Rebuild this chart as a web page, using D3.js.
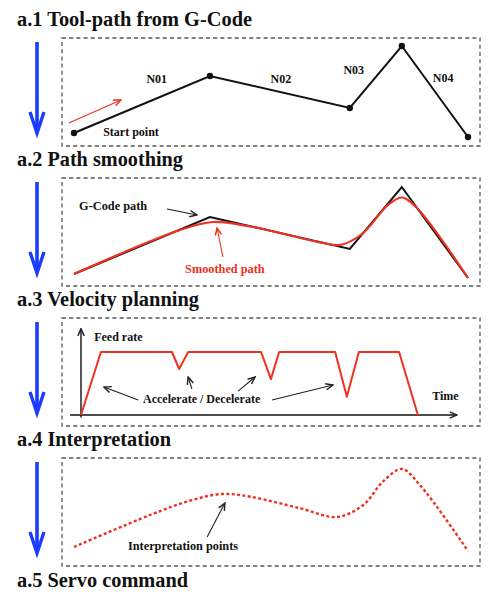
<!DOCTYPE html>
<html>
<head>
<meta charset="utf-8">
<script src="https://cdn.jsdelivr.net/npm/d3@7"></script>
<style>
  body{margin:0;background:#fff;}
  text{font-family:"Liberation Serif","Times New Roman",serif;font-weight:bold;}
</style>
</head>
<body>
<div id="vizContainer"></div>
<script>
let w = 495;
let h = 603;

// G-code tool path: position along the path (0-100) and height (0-100)
let gcodeX = [0, 34.5, 70, 83.2, 100];
let gcodeH = [7, 64, 32, 94, 3];
let blockNames = ["N01", "N02", "N03", "N04"];
let blockLabelX = [21, 52.5, 71, 93.7];
let blockLabelH = [57, 57, 66, 58];

// smoothed path (a.2)
let smoothX = [0, 26.9, 35.3, 44.7, 62.4, 67.5, 73.1, 79.7, 83.2, 86.8, 100];
let smoothH = [7, 51, 59, 54.5, 38.7, 36, 47, 76, 83.5, 74, 3];

// interpolated points path (a.4)
let interpX = [0, 19.3, 29.4, 37.6, 44.7, 57.4, 66.8, 73.4, 78.4, 83.2, 87.8, 100];
let interpH = [7, 39, 53.3, 60, 57.3, 45.7, 37, 49, 72.3, 85, 69, 3];

// velocity profile (a.3): time vs feed rate
let timeKnots = [0, 5.3, 24.2, 26.1, 28.5, 47.9, 50.5, 52.7, 67.6, 70.7, 73.9, 84.6, 89.6];
let feedKnots = [0, 100, 100, 73, 100, 100, 57, 100, 100, 29, 100, 100, 0];

let titles = ["a.1 Tool-path from G-Code", "a.2 Path smoothing", "a.3 Velocity planning", "a.4 Interpretation", "a.5 Servo command"];
let titleWidths = [235, 166, 182, 154, 171];

let step = 140;
let boxTop = 38, boxH = 108, boxLeft = 62, boxRight = 480;

let viz = d3.select("#vizContainer").append("svg")
    .attr("width", w)
    .attr("height", h)
    .style("background-color", "white")
;

// arrow heads
let defs = viz.append("defs");
function addMarker(id, color){
  defs.append("marker")
      .attr("id", id)
      .attr("viewBox", "0 0 10 10")
      .attr("refX", 9)
      .attr("refY", 5)
      .attr("markerWidth", 9)
      .attr("markerHeight", 9)
      .attr("markerUnits", "userSpaceOnUse")
      .attr("orient", "auto")
    .append("path")
      .attr("d", "M1,1.5 L9,5 L1,8.5")
      .attr("fill", "none")
      .attr("stroke", color)
      .attr("stroke-width", 1.6)
  ;
}
addMarker("headBlack", "#222");
addMarker("headRed", "#f03020");

// titles
viz.selectAll(".title").data(titles).enter()
  .append("text")
    .attr("class", "title")
    .attr("x", 17)
    .attr("y", (d, i) => 26 + i*step + (i == 4 ? 1 : 0))
    .attr("font-size", 20.5)
    .attr("fill", "#111")
    .attr("textLength", (d, i) => titleWidths[i])
    .attr("lengthAdjust", "spacingAndGlyphs")
    .text(d => d)
;

// dashed frames and blue arrows
for(let i = 0; i < 4; i++){
  let top = boxTop + i*step;
  viz.append("rect")
      .attr("x", boxLeft)
      .attr("y", top)
      .attr("width", boxRight - boxLeft)
      .attr("height", boxH)
      .attr("fill", "none")
      .attr("stroke", "#555")
      .attr("stroke-width", 1.3)
      .attr("stroke-dasharray", "4,3.2")
  ;
  let ax = 37;
  let y0 = top + 4, y1 = top + 95;
  viz.append("line")
      .attr("x1", ax).attr("y1", y0)
      .attr("x2", ax).attr("y2", y1 - 1)
      .attr("stroke", "#1a3cff")
      .attr("stroke-width", 3.6)
  ;
  viz.append("path")
      .attr("d", "M" + (ax-7) + "," + (y1-21) + " L" + ax + "," + y1 + " L" + (ax+7) + "," + (y1-21))
      .attr("fill", "none")
      .attr("stroke", "#1a3cff")
      .attr("stroke-width", 3.4)
      .attr("stroke-linejoin", "miter")
  ;
}

// shared x scale for the path panels
let xScale = d3.scaleLinear().domain([0, 100]).range([74, 468]);
function hScale(base){
  return d3.scaleLinear().domain([0, 100]).range([base, base - 100]);
}

function arrow(g, x1, y1, x2, y2, color, marker, width){
  g.append("line")
      .attr("x1", x1).attr("y1", y1)
      .attr("x2", x2).attr("y2", y2)
      .attr("stroke", color)
      .attr("stroke-width", width)
      .attr("marker-end", "url(#" + marker + ")")
  ;
}

function label(g, x, y, txt, size, color){
  g.append("text")
      .attr("x", x)
      .attr("y", y)
      .attr("font-size", size)
      .attr("fill", color || "#111")
      .text(txt)
  ;
}

// ---------- a.1 tool path ----------
let y1s = hScale(140);
let g1 = viz.append("g").attr("class", "panel1");
let gcodeData = gcodeX.map((d, i) => ({x: d, h: gcodeH[i]}));
let line1 = d3.line().x(d => xScale(d.x)).y(d => y1s(d.h));
g1.append("path")
    .datum(gcodeData)
    .attr("d", line1)
    .attr("fill", "none")
    .attr("stroke", "#111")
    .attr("stroke-width", 2)
;
g1.selectAll("circle").data(gcodeData).enter()
  .append("circle")
    .attr("cx", d => xScale(d.x))
    .attr("cy", d => y1s(d.h))
    .attr("r", 3.2)
    .attr("fill", "#111")
;
g1.selectAll(".blk").data(blockNames).enter()
  .append("text")
    .attr("class", "blk")
    .attr("x", (d, i) => xScale(blockLabelX[i]))
    .attr("y", (d, i) => y1s(blockLabelH[i]))
    .attr("text-anchor", "middle")
    .attr("font-size", 12)
    .attr("fill", "#111")
    .text(d => d)
;
label(g1, xScale(7.4), y1s(4), "Start point", 12);
arrow(g1, xScale(-1.3), y1s(17), xScale(11.9), y1s(40), "#f03020", "headRed", 1.1);

// ---------- a.2 path smoothing ----------
let y2s = hScale(281);
let g2 = viz.append("g").attr("class", "panel2");
let line2 = d3.line().x(d => xScale(d.x)).y(d => y2s(d.h));
g2.append("path")
    .datum(gcodeData)
    .attr("d", line2)
    .attr("fill", "none")
    .attr("stroke", "#111")
    .attr("stroke-width", 2)
;
let smoothData = smoothX.map((d, i) => ({x: d, h: smoothH[i]}));
g2.append("path")
    .datum(smoothData)
    .attr("d", line2.curve(d3.curveCatmullRom.alpha(0.5)))
    .attr("fill", "none")
    .attr("stroke", "#f03020")
    .attr("stroke-width", 2.2)
;
label(g2, xScale(1.3), y2s(71), "G-Code path", 12.3);
arrow(g2, xScale(23.6), y2s(72), xScale(31.2), y2s(66), "#222", "headBlack", 1.1);
label(g2, xScale(28.2), y2s(8), "Smoothed path", 12.3, "#f03020");
arrow(g2, xScale(37.8), y2s(24), xScale(36.3), y2s(53), "#f03020", "headRed", 1.1);

// ---------- a.3 velocity planning ----------
let tScale = d3.scaleLinear().domain([0, 100]).range([81, 457]);
let fScale = d3.scaleLinear().domain([0, 100]).range([415, 352]);
let g3 = viz.append("g").attr("class", "panel3");
arrow(g3, tScale(-2.9), fScale(0), tScale(100), fScale(0), "#111", "headBlack", 1.4);
arrow(g3, tScale(0), fScale(-4), tScale(0), fScale(137), "#111", "headBlack", 1.4);
let velData = timeKnots.map((d, i) => ({t: d, f: feedKnots[i]}));
g3.append("path")
    .datum(velData)
    .attr("d", d3.line().x(d => tScale(d.t)).y(d => fScale(d.f)))
    .attr("fill", "none")
    .attr("stroke", "#f03020")
    .attr("stroke-width", 2)
    .attr("stroke-linejoin", "round")
;
label(g3, tScale(3.5), fScale(117.5), "Feed rate", 12);
label(g3, tScale(93.4), fScale(23.8), "Time", 12);
label(g3, tScale(16.5), fScale(19), "Accelerate / Decelerate", 12);
arrow(g3, tScale(15.2), fScale(23.8), tScale(6.1), fScale(44.4), "#222", "headBlack", 1.1);
arrow(g3, tScale(29.5), fScale(41.3), tScale(28.5), fScale(60.3), "#222", "headBlack", 1.1);
arrow(g3, tScale(41.8), fScale(38), tScale(46.3), fScale(60.3), "#222", "headBlack", 1.1);
arrow(g3, tScale(50.8), fScale(23.8), tScale(67), fScale(47.6), "#222", "headBlack", 1.1);

// ---------- a.4 interpretation ----------
let y4s = hScale(554);
let g4 = viz.append("g").attr("class", "panel4");
let interpData = interpX.map((d, i) => ({x: d, h: interpH[i]}));
g4.append("path")
    .datum(interpData)
    .attr("d", d3.line().x(d => xScale(d.x)).y(d => y4s(d.h)).curve(d3.curveCatmullRom.alpha(0.5)))
    .attr("fill", "none")
    .attr("stroke", "#f03020")
    .attr("stroke-width", 2.4)
    .attr("stroke-dasharray", "3,2.4")
;
label(g4, xScale(13.7), y4s(4), "Interpretation points", 12.3);
arrow(g4, xScale(33.8), y4s(17), xScale(38.3), y4s(51), "#222", "headBlack", 1.1);
</script>
</body>
</html>
